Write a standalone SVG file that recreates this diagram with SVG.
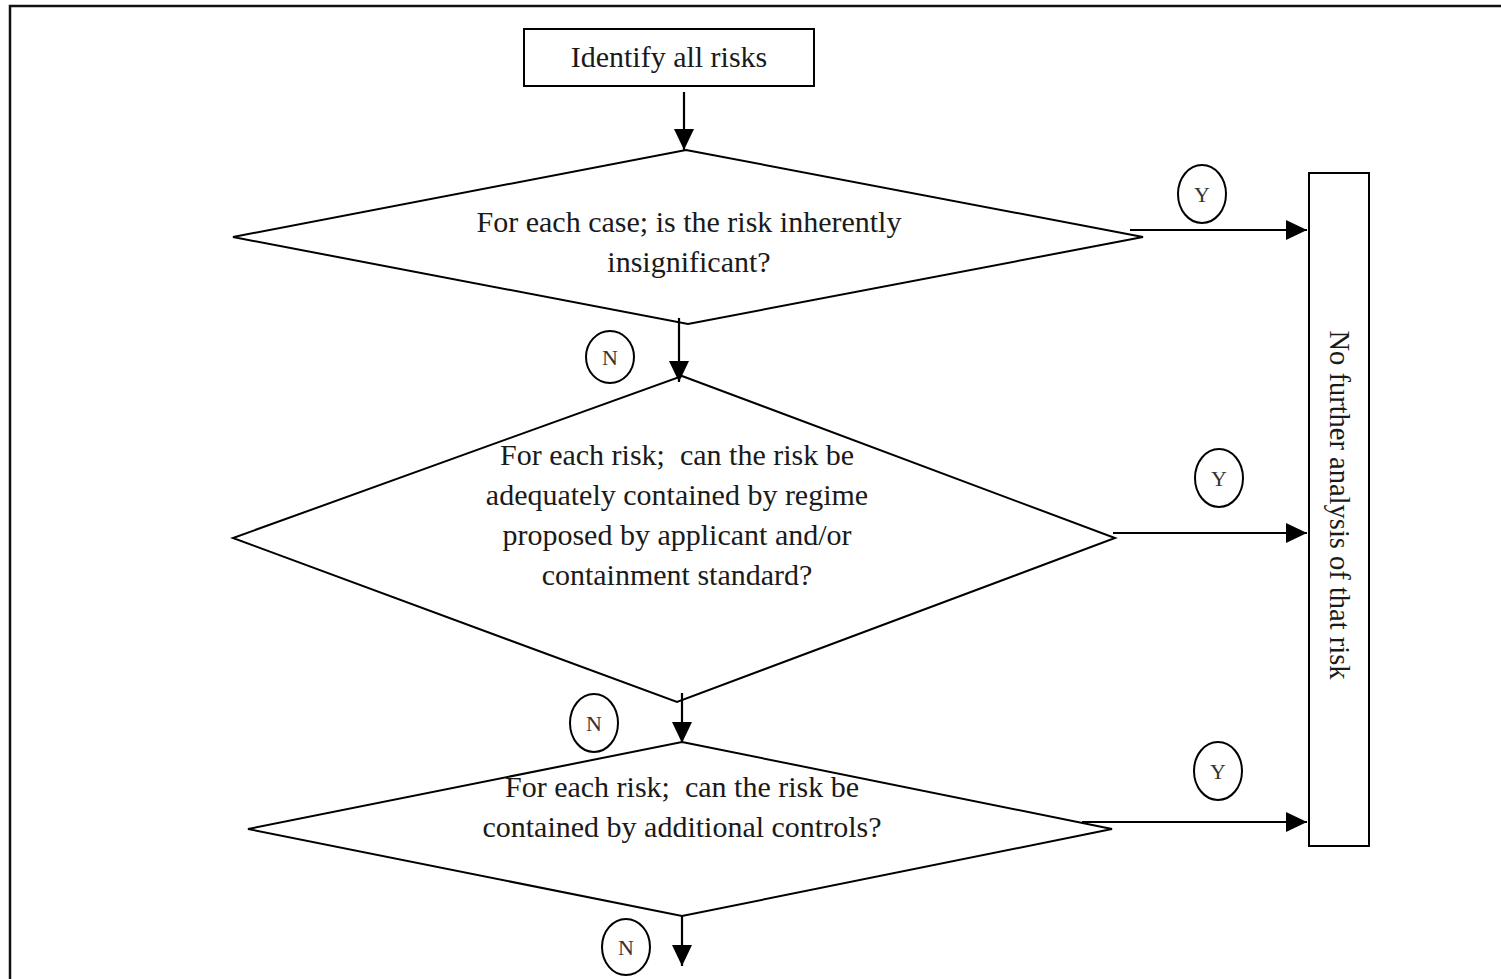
<svg xmlns="http://www.w3.org/2000/svg" width="1501" height="979" viewBox="0 0 1501 979">
<style>
.shape{fill:#fff;stroke:#000;stroke-width:2}
.lbl{font-family:"Liberation Serif","Times New Roman",serif;font-size:30px;fill:#1a1a1a;text-anchor:middle}
.vert{font-size:28.5px}
.yn{font-family:"Liberation Serif","Times New Roman",serif;font-size:22px;fill:#333;text-anchor:middle}
.conn{fill:none;stroke:#000;stroke-width:2.2}
</style>
<defs>
<marker id="ah" markerUnits="userSpaceOnUse" markerWidth="21" markerHeight="21" viewBox="0 0 21 20" refX="21" refY="10" orient="auto">
<path d="M0,0 L21,10 L0,20 Z" fill="#000"/>
</marker>
</defs>
<rect width="1501" height="979" fill="#fff"/>
<path d="M10,979 L10,6 L1501,6" fill="none" stroke="#111" stroke-width="2.5"/>

<g id="start">
<rect class="shape" x="524" y="29" width="290" height="57"/>
<text class="lbl" x="669" y="67">Identify all risks</text>
</g>

<g id="d1">
<polygon class="shape" points="686,150 1143,237 688,324 233,237"/>
<text class="lbl" x="689" y="232">For each case; is the risk inherently</text>
<text class="lbl" x="689" y="272">insignificant?</text>
</g>

<g id="d2">
<polygon class="shape" points="682,376 1115,538 677,702 233,538"/>
<text class="lbl" x="677" y="465" xml:space="preserve">For each risk;  can the risk be</text>
<text class="lbl" x="677" y="505">adequately contained by regime</text>
<text class="lbl" x="677" y="545">proposed by applicant and/or</text>
<text class="lbl" x="677" y="585">containment standard?</text>
</g>

<g id="d3">
<polygon class="shape" points="682,742 1112,829 682,916 248,829"/>
<text class="lbl" x="682" y="797" xml:space="preserve">For each risk;  can the risk be</text>
<text class="lbl" x="682" y="837">contained by additional controls?</text>
</g>

<g id="end">
<rect class="shape" x="1309" y="173" width="60" height="673"/>
<text class="lbl vert" transform="translate(1339,505) rotate(90)" x="0" y="0" dominant-baseline="central">No further analysis of that risk</text>
</g>

<g id="connectors">
<line class="conn" x1="684" y1="92" x2="684" y2="150" marker-end="url(#ah)"/>
<line class="conn" x1="679" y1="318" x2="679" y2="382" marker-end="url(#ah)"/>
<line class="conn" x1="682" y1="693" x2="682" y2="743" marker-end="url(#ah)"/>
<line class="conn" x1="682" y1="916" x2="682" y2="966" marker-end="url(#ah)"/>
<line class="conn" x1="1130" y1="230" x2="1307" y2="230" marker-end="url(#ah)"/>
<line class="conn" x1="1113" y1="533" x2="1307" y2="533" marker-end="url(#ah)"/>
<line class="conn" x1="1082" y1="822" x2="1307" y2="822" marker-end="url(#ah)"/>
</g>

<g id="labels">
<g id="n1"><ellipse class="shape" cx="610" cy="357" rx="24" ry="26"/><text class="yn" x="610" y="365">N</text></g>
<g id="n2"><ellipse class="shape" cx="594" cy="723" rx="24" ry="29"/><text class="yn" x="594" y="731">N</text></g>
<g id="n3"><ellipse class="shape" cx="626" cy="947" rx="24" ry="28"/><text class="yn" x="626" y="955">N</text></g>
<g id="y1"><ellipse class="shape" cx="1202" cy="194" rx="24" ry="29"/><text class="yn" x="1202" y="202">Y</text></g>
<g id="y2"><ellipse class="shape" cx="1219" cy="478" rx="24" ry="29"/><text class="yn" x="1219" y="486">Y</text></g>
<g id="y3"><ellipse class="shape" cx="1218" cy="771" rx="24" ry="29"/><text class="yn" x="1218" y="779">Y</text></g>
</g>
</svg>
